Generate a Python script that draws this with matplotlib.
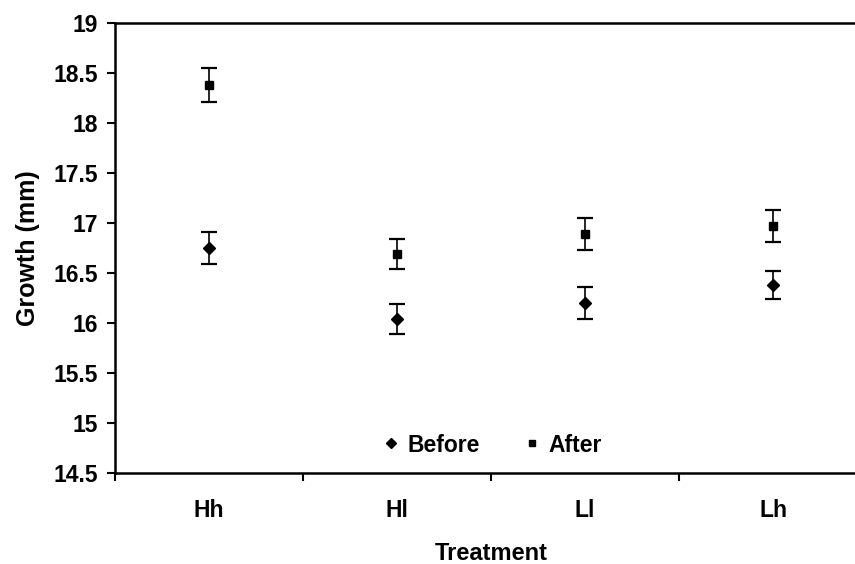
import matplotlib
matplotlib.use("Agg")
import matplotlib.pyplot as plt
from matplotlib.lines import Line2D
import numpy as np

treatments = ["Hh", "Hl", "Ll", "Lh"]
before_mean = [16.75, 16.04, 16.20, 16.38]
before_err = [0.16, 0.15, 0.16, 0.145]
after_mean = [18.38, 16.69, 16.89, 16.97]
after_err = [0.17, 0.15, 0.16, 0.16]

plt.rcParams["font.family"] = ["Liberation Sans", "DejaVu Sans"]
plt.rcParams["font.weight"] = "bold"

W, H = 855, 564
fig = plt.figure(figsize=(W / 100, H / 100), dpi=100)
left, right, top, bottom = 115, 867, 23, 473
ax = fig.add_axes([left / W, 1 - bottom / H, (right - left) / W, (bottom - top) / H])

x = np.arange(1, len(treatments) + 1)
ax.errorbar(x, before_mean, yerr=before_err, fmt="D", color="black", ms=6.5,
            ecolor="black", elinewidth=1.2, capsize=5.5, capthick=1.6)
ax.errorbar(x, after_mean, yerr=after_err, fmt="s", color="black", ms=5.5,
            ecolor="black", elinewidth=1.2, capsize=5.5, capthick=1.6)

ax.set_xlim(0.5, 4.5)
ax.set_ylim(14.5, 19)
yt = np.arange(14.5, 19.01, 0.5)
ax.set_yticks(yt)
ax.set_yticklabels([f"{v:g}" for v in yt])
ax.set_xticks(x)
ax.set_xticklabels(treatments)
ax.set_xticks(np.arange(0.5, 4.6, 1.0), minor=True)
ax.tick_params(axis="x", which="major", length=0, pad=19, labelsize=16.5)
ax.tick_params(axis="x", which="minor", length=6, width=1.5, direction="out")
ax.tick_params(axis="y", length=6, width=1.5, direction="out", pad=6, labelsize=16.5)

for s in ax.spines.values():
    s.set_linewidth(1.8)
    s.set_color("black")

ax.set_xlabel("Treatment", fontsize=17, fontweight="bold", labelpad=14)
ax.set_ylabel("Growth (mm)", fontsize=18, fontweight="bold", labelpad=10)

handles = [
    Line2D([], [], marker="D", ls="none", color="black", ms=5.5),
    Line2D([], [], marker="s", ls="none", color="black", ms=4.5),
]
ax.legend(handles, ["Before", "After"], loc="center",
          bbox_to_anchor=((493 - left) / (right - left), (bottom - 445) / (bottom - top)),
          ncol=2, frameon=False, fontsize=16.5, handlelength=0.6,
          handletextpad=0.4, columnspacing=2.0, borderaxespad=0.0)

fig.savefig("out.png", dpi=100, facecolor="white")
